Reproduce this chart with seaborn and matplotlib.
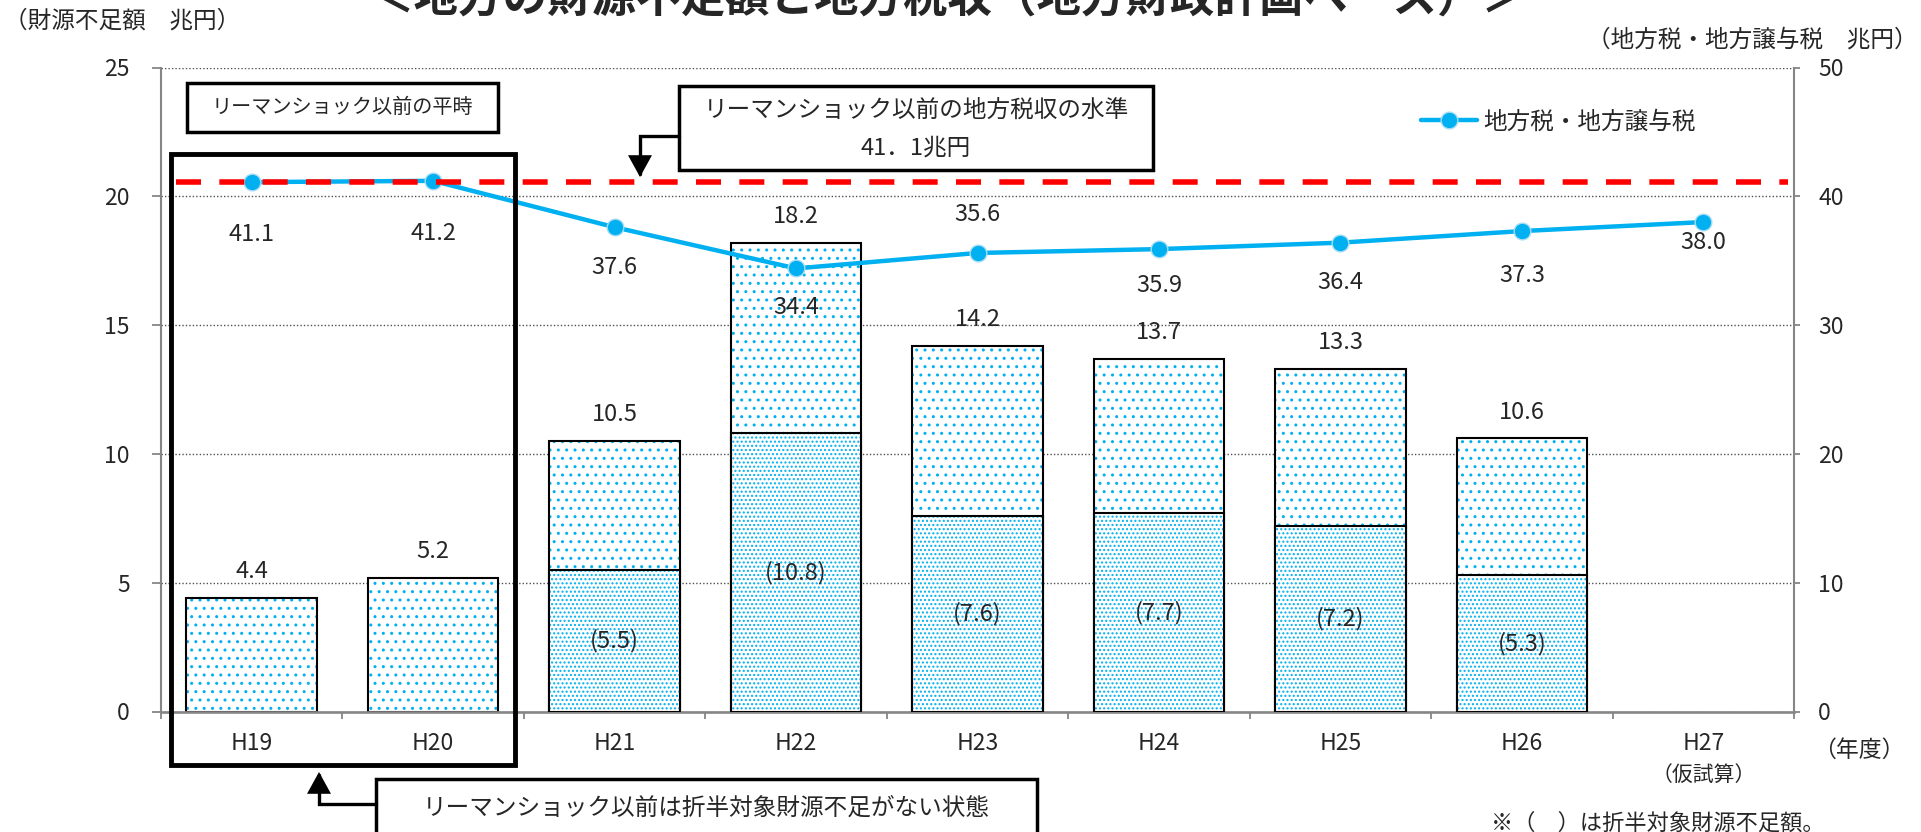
import numpy as np
import pandas as pd
import matplotlib
matplotlib.use("Agg")
import matplotlib.pyplot as plt
from matplotlib.patches import Rectangle, FancyArrowPatch
from matplotlib.path import Path
from matplotlib.lines import Line2D
from matplotlib.ticker import FixedLocator
import seaborn as sns

# ---- data -------------------------------------------------------------
years = ["H19", "H20", "H21", "H22", "H23", "H24", "H25", "H26", "H27"]
shortfall_total = [4.4, 5.2, 10.5, 18.2, 14.2, 13.7, 13.3, 10.6, np.nan]   # 財源不足額
shortfall_split = [np.nan, np.nan, 5.5, 10.8, 7.6, 7.7, 7.2, 5.3, np.nan]  # 折半対象財源不足額
local_tax = [41.1, 41.2, 37.6, 34.4, 35.6, 35.9, 36.4, 37.3, 38.0]        # 地方税・地方譲与税
pre_crisis_tax = 41.1
left_ticks = [0, 5, 10, 15, 20, 25]
right_ticks = [0, 10, 20, 30, 40, 50]

# label offsets (points) for the tax values
tax_label_offsets = [-38, -38, -29, -28, 28, -26, -29, -32, -15]

# ---- style ------------------------------------------------------------
sns.set_theme(style="white")
plt.rcParams["font.family"] = ["Noto Sans CJK JP", "DejaVu Sans"]
plt.rcParams["hatch.linewidth"] = 1.0

CYAN = "#00B0F0"
GRAY = "#868686"
W, H = 1921, 832


def fx(px):
    return px / W


def fy(py):
    return 1 - py / H


fig = plt.figure(figsize=(W / 100, H / 100), dpi=100)
L, R, T, B = 161, 1794, 67.5, 711.5
ax = fig.add_axes([fx(L), fy(B), fx(R) - fx(L), fy(T) - fy(B)])

df = pd.DataFrame({"year": years, "total": shortfall_total,
                   "split": shortfall_split, "tax": local_tax})

# ---- bars: total shortfall with the split portion stacked from zero -----
n0 = len(ax.patches)
sns.barplot(data=df, x="year", y="total", order=years, color="white",
            width=0.72, errorbar=None, ax=ax)
total_patches = list(ax.patches[n0:])
n1 = len(ax.patches)
sns.barplot(data=df, x="year", y="split", order=years, color="white",
            width=0.72, errorbar=None, ax=ax)
split_patches = list(ax.patches[n1:])


def style_bars(patches, hatch, z):
    for p in patches:
        p.set_facecolor("white")
        p.set_edgecolor(CYAN)
        p.set_hatch(hatch)
        p.set_linewidth(0)
        p.set_zorder(z)
        h = p.get_height()
        if np.isfinite(h) and h > 0:
            ax.add_patch(Rectangle(p.get_xy(), p.get_width(), h, fill=False,
                                   edgecolor="black", linewidth=1.5,
                                   zorder=z + 0.5))


style_bars(total_patches, "..", 2)
style_bars(split_patches, "....", 3)

NUM_FS = 17
for i, v in enumerate(shortfall_total):
    if np.isfinite(v):
        ax.annotate(f"{v:.1f}", (i, v), xytext=(0, 19),
                    textcoords="offset points", ha="center", va="center",
                    fontsize=NUM_FS, zorder=6)
for i, v in enumerate(shortfall_split):
    if np.isfinite(v):
        ax.text(i, v / 2, f"({v:.1f})", ha="center", va="center",
                fontsize=NUM_FS, zorder=6)

# ---- local tax line on the secondary axis -------------------------------
ax2 = ax.twinx()
sns.pointplot(data=df, x="year", y="tax", order=years, color=CYAN,
              markers="o", markersize=12, linewidth=3.2, errorbar=None,
              markeredgecolor="#a8dcf3", markeredgewidth=1.0, ax=ax2)
ax2.axhline(pre_crisis_tax, xmin=0.0092, xmax=0.9963, color="#FF0000",
            linewidth=4, dashes=(4.5, 3.3), zorder=5)
for i, (v, off) in enumerate(zip(local_tax, tax_label_offsets)):
    ax2.annotate(f"{v:.1f}", (i, v), xytext=(0, off),
                 textcoords="offset points", ha="center", va="center",
                 fontsize=NUM_FS)

# ---- axes ----------------------------------------------------------------
ax.set_ylim(0, 25)
ax2.set_ylim(0, 50)
ax.set_xlim(-0.5, len(years) - 0.5)
ax.set_yticks(left_ticks)
ax2.set_yticks(right_ticks)
ax.set_xticks(range(len(years)))
ax.set_xticklabels(years)
ax.xaxis.set_minor_locator(FixedLocator(np.arange(-0.5, len(years), 1.0)))
for a in (ax, ax2):
    a.set_xlabel("")
    a.set_ylabel("")

ax.tick_params(axis="y", direction="out", length=6.5, width=1.3, color=GRAY,
               pad=16, labelsize=16.5, left=True)
ax2.tick_params(axis="y", direction="out", length=4.5, width=1.3, color=GRAY,
                pad=13, labelsize=16.5, right=True)
ax.tick_params(axis="x", which="major", length=0, pad=15, labelsize=16.5)
ax.tick_params(axis="x", which="minor", direction="out", length=5, width=1.3,
               color=GRAY, bottom=True)

ax.set_axisbelow(True)
ax.yaxis.grid(True, color="#505050", linestyle=(0, (1, 1.5)), linewidth=1.0)
ax.xaxis.grid(False)
ax2.grid(False)

for s in ("top", "right"):
    ax.spines[s].set_visible(False)
ax.spines["left"].set_color(GRAY)
ax.spines["left"].set_linewidth(1.5)
ax.spines["bottom"].set_color(GRAY)
ax.spines["bottom"].set_linewidth(1.9)
for s in ("top", "left", "bottom"):
    ax2.spines[s].set_visible(False)
ax2.spines["right"].set_color(GRAY)
ax2.spines["right"].set_linewidth(1.5)

# H27 note under its tick label
ax.text(8, -0.098, "（仮試算）", transform=ax.get_xaxis_transform(),
        ha="center", va="center", fontsize=15)

# ---- legend ---------------------------------------------------------------
handle = Line2D([0], [0], color=CYAN, linewidth=3.2, marker="o", markersize=12,
                markeredgecolor="#a8dcf3", markeredgewidth=1.0)
fig.legend([handle], ["地方税・地方譲与税"], loc="center left",
           bbox_to_anchor=(fx(1421), fy(122)), bbox_transform=fig.transFigure,
           frameon=False, fontsize=17, handlelength=2.37, handletextpad=0.25,
           borderpad=0, borderaxespad=0)

# ---- titles and axis captions ----------------------------------------------
fig.text(fx(948), fy(12), "＜地方の財源不足額と地方税収（地方財政計画ベース）＞",
         ha="center", va="baseline", fontsize=32, fontweight="bold")
fig.text(fx(4), fy(21), "（財源不足額　兆円）", ha="left", va="center",
         fontsize=17)
fig.text(fx(1918), fy(40), "（地方税・地方譲与税　兆円）", ha="right",
         va="center", fontsize=17)
fig.text(fx(1859), fy(750), "（年度）", ha="center", va="center", fontsize=16.5)
fig.text(fx(1491), fy(823), "※（　）は折半対象財源不足額。", ha="left",
         va="center", fontsize=16)


# ---- callout boxes ---------------------------------------------------------
def fig_box(x0, y0, x1, y1, lw, fill=True):
    rect = Rectangle((fx(x0), fy(y1)), fx(x1) - fx(x0), fy(y0) - fy(y1),
                     transform=fig.transFigure, facecolor="white",
                     fill=fill, edgecolor="black", linewidth=lw, zorder=10)
    fig.add_artist(rect)


def fig_arrow(points):
    verts = [(fx(x), fy(y)) for x, y in points]
    codes = [Path.MOVETO] + [Path.LINETO] * (len(verts) - 1)
    arr = FancyArrowPatch(path=Path(verts, codes),
                          arrowstyle="-|>,head_length=0.4,head_width=0.22",
                          mutation_scale=30, linewidth=2.4, color="black",
                          joinstyle="miter", transform=fig.transFigure,
                          zorder=10)
    fig.add_artist(arr)


fig_box(187, 83, 498, 132, 2.5)
fig.text(fx(342.5), fy(107.5), "リーマンショック以前の平時", ha="center",
         va="center", fontsize=14.5, zorder=11)

fig_box(171, 154, 515, 765, 3.5, fill=False)

fig_box(679, 86, 1153, 170, 2.5)
fig.text(fx(916), fy(110), "リーマンショック以前の地方税収の水準", ha="center",
         va="center", fontsize=17, zorder=11)
fig.text(fx(916), fy(148), "41．1兆円", ha="center", va="center",
         fontsize=17, zorder=11)
fig_arrow([(679, 136), (640, 136), (640, 177)])

fig_box(376, 779, 1037, 850, 2.5)
fig.text(fx(706), fy(808), "リーマンショック以前は折半対象財源不足がない状態",
         ha="center", va="center", fontsize=17, zorder=11)
fig_arrow([(376, 804), (319, 804), (319, 772)])

fig.savefig("out.png", dpi=100)
